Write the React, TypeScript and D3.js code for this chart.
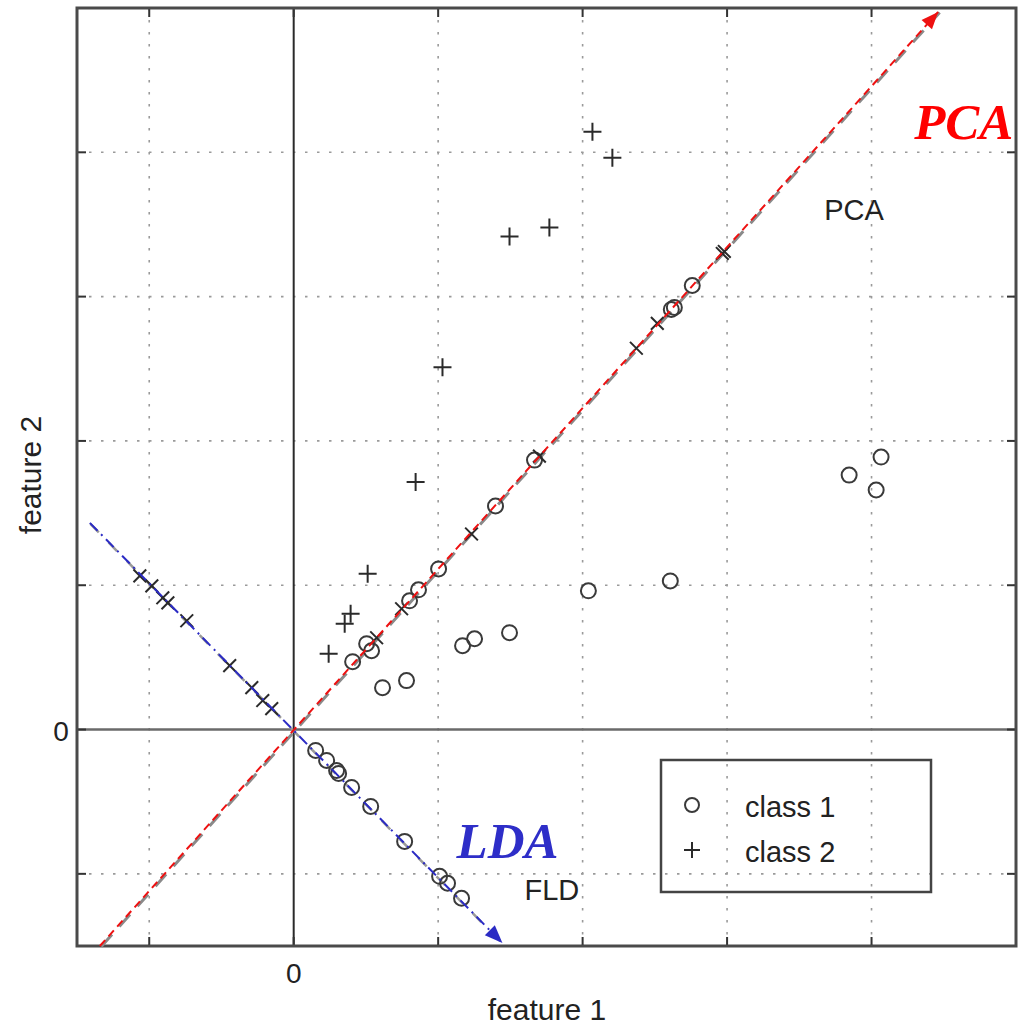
import * as d3 from "d3";

// class 1 (circles) off the projection lines
const class1X = [3.845, 4.066, 4.032, 2.607, 2.04, 1.494, 1.169, 1.252, 0.615, 0.781];
const class1Y = [1.763, 1.888, 1.66, 1.03, 0.961, 0.671, 0.581, 0.629, 0.29, 0.339];

// class 2 (plus) off the projection lines
const class2X = [2.068, 2.206, 1.494, 1.77, 1.03, 0.844, 0.512, 0.394, 0.353, 0.242];
const class2Y = [4.142, 3.963, 3.416, 3.479, 2.51, 1.715, 1.079, 0.802, 0.733, 0.526];

// projections on the PCA direction
const pcaC1X = [0.408, 0.505, 0.539, 0.802, 0.864, 1.003, 1.397, 1.667, 2.614, 2.635, 2.759];
const pcaC1Y = [0.47, 0.595, 0.546, 0.892, 0.968, 1.113, 1.549, 1.867, 2.911, 2.925, 3.077];
const pcaC2X = [0.574, 0.747, 1.231, 1.701, 2.372, 2.517, 2.967, 2.981];
const pcaC2Y = [0.636, 0.837, 1.355, 1.895, 2.642, 2.815, 3.299, 3.313];

// projections on the LDA (FLD) direction
const ldaC1X = [0.152, 0.228, 0.297, 0.311, 0.401, 0.533, 0.768, 1.01, 1.065, 1.162];
const ldaC1Y = [-0.145, -0.214, -0.284, -0.304, -0.401, -0.533, -0.775, -1.017, -1.065, -1.169];
const ldaC2X = [-1.065, -0.982, -0.906, -0.871, -0.74, -0.443, -0.29, -0.214, -0.152];
const ldaC2Y = [1.065, 0.996, 0.913, 0.878, 0.754, 0.443, 0.29, 0.201, 0.145];

// direction lines (start, arrow tip)
const pcaLine: [number, number][] = [[-1.342, -1.5], [4.461, 4.972]];
const ldaLine: [number, number][] = [[-1.411, 1.432], [1.445, -1.48]];

const gridTicks = [-1, 1, 2, 3, 4];
const axisTicks = [-1, 0, 1, 2, 3, 4];

const W = 1018;
const H = 1027;
const sans = "'Liberation Sans', Arial, sans-serif";
const serif = "'Liberation Serif', 'Times New Roman', serif";

const zip = (xs: number[], ys: number[]) => xs.map((v, i) => [v, ys[i]] as [number, number]);

export default function App() {
  const x = d3.scaleLinear().domain([-1.5, 5]).range([77, 1016]);
  const y = d3.scaleLinear().domain([-1.5, 5]).range([946, 8]);
  const line = d3.line<[number, number]>().x((d) => x(d[0])).y((d) => y(d[1]));

  const circle = (p: [number, number], i: number, key: string) => (
    <circle key={key + i} cx={x(p[0])} cy={y(p[1])} r={7.5} fill="none" stroke="#3a3a3a" strokeWidth={2} />
  );
  const plus = (p: [number, number], i: number, key: string, rot = 0) => (
    <path
      key={key + i}
      d="M-9,0H9M0,-9V9"
      transform={`translate(${x(p[0])},${y(p[1])}) rotate(${rot})`}
      stroke="#2a2a2a"
      strokeWidth={2}
    />
  );

  // arrowhead at the tip of a direction line
  const arrow = (seg: [number, number][], color: string, len: number, half: number) => {
    const [x0, y0] = [x(seg[0][0]), y(seg[0][1])];
    const [x1, y1] = [x(seg[1][0]), y(seg[1][1])];
    const a = Math.atan2(y1 - y0, x1 - x0);
    const bx = x1 - len * Math.cos(a);
    const by = y1 - len * Math.sin(a);
    const nx = -Math.sin(a) * half;
    const ny = Math.cos(a) * half;
    return <path d={`M${x1},${y1}L${bx + nx},${by + ny}L${bx - nx},${by - ny}Z`} fill={color} />;
  };

  return (
    <div style={{ position: "absolute", left: 0, top: 0 }}>
      <svg width={W} height={H} style={{ display: "block", background: "#fff" }}>
        {/* dotted grid */}
        <g stroke="#9a9a9a" strokeWidth={1.6} strokeDasharray="2.5,9.5">
          {gridTicks.map((t) => (
            <line key={"gx" + t} x1={x(t)} x2={x(t)} y1={y(5)} y2={y(-1.5)} />
          ))}
          {gridTicks.map((t) => (
            <line key={"gy" + t} y1={y(t)} y2={y(t)} x1={x(-1.5)} x2={x(5)} />
          ))}
        </g>

        {/* zero axes */}
        <line x1={x(-1.5)} x2={x(5)} y1={y(0)} y2={y(0)} stroke="#6a6a6a" strokeWidth={2.5} />
        <line x1={x(0)} x2={x(0)} y1={y(5)} y2={y(-1.5)} stroke="#2a2a2a" strokeWidth={2} />

        {/* tick marks on all four sides */}
        <g stroke="#333" strokeWidth={2}>
          {axisTicks.map((t) => (
            <g key={"t" + t}>
              <line x1={x(t)} x2={x(t)} y1={y(-1.5)} y2={y(-1.5) - 9} />
              <line x1={x(t)} x2={x(t)} y1={y(5)} y2={y(5) + 9} />
              <line y1={y(t)} y2={y(t)} x1={x(-1.5)} x2={x(-1.5) + 9} />
              <line y1={y(t)} y2={y(t)} x1={x(5)} x2={x(5) - 9} />
            </g>
          ))}
        </g>

        {/* frame */}
        <rect x={x(-1.5)} y={y(5)} width={x(5) - x(-1.5)} height={y(-1.5) - y(5)} fill="none" stroke="#4a4a4a" strokeWidth={3} />

        {/* original gray dashed direction lines underneath */}
        <path d={line(pcaLine) ?? ""} transform="translate(1.5,0.5)" fill="none" stroke="#8a8a8a" strokeWidth={3} strokeDasharray="16,11" />
        <path d={line(ldaLine) ?? ""} transform="translate(0.5,1)" fill="none" stroke="#9a9a9a" strokeWidth={2.5} strokeDasharray="12,14" />

        {/* points */}
        {zip(class1X, class1Y).map((p, i) => circle(p, i, "c1"))}
        {zip(class2X, class2Y).map((p, i) => plus(p, i, "c2"))}
        {zip(pcaC1X, pcaC1Y).map((p, i) => circle(p, i, "pc1"))}
        {zip(pcaC2X, pcaC2Y).map((p, i) => plus(p, i, "pc2", 45))}
        {zip(ldaC1X, ldaC1Y).map((p, i) => circle(p, i, "lc1"))}
        {zip(ldaC2X, ldaC2Y).map((p, i) => plus(p, i, "lc2", 45))}

        {/* coloured direction lines */}
        <path d={line(pcaLine) ?? ""} fill="none" stroke="#ee1111" strokeWidth={2} strokeDasharray="8,5" />
        {arrow(pcaLine, "#ee1111", 17, 7)}
        <path d={line(ldaLine) ?? ""} fill="none" stroke="#2b2bc4" strokeWidth={2} strokeDasharray="11,5,2,5" />
        {arrow(ldaLine, "#2b2bc4", 18, 7)}

        {/* annotations */}
        <text x={x(4.295)} y={y(4.094)} fontFamily={serif} fontStyle="italic" fontWeight="bold" fontSize={51} fill="#ff0000">PCA</text>
        <text x={x(1.127)} y={y(-0.892)} fontFamily={serif} fontStyle="italic" fontWeight="bold" fontSize={51} fill="#2e2ec8">LDA</text>
        <text x={x(3.672)} y={y(3.534)} fontFamily={sans} fontSize={29} fill="#222">PCA</text>
        <text x={x(1.598)} y={y(-1.183)} fontFamily={sans} fontSize={29} fill="#222">FLD</text>

        {/* legend */}
        <rect x={661} y={760} width={270} height={132} fill="none" stroke="#444" strokeWidth={2.5} />
        <circle cx={692} cy={805} r={7} fill="none" stroke="#3a3a3a" strokeWidth={2} />
        <path d="M-8,0H8M0,-8V8" transform="translate(692,850)" stroke="#2a2a2a" strokeWidth={2} />
        <text x={745} y={817} fontFamily={sans} fontSize={29} fill="#222">class 1</text>
        <text x={745} y={862} fontFamily={sans} fontSize={29} fill="#222">class 2</text>

        {/* axis labels */}
        <text x={61} y={y(0) + 11} textAnchor="middle" fontFamily={sans} fontSize={28} fill="#222">0</text>
        <text x={x(0)} y={983} textAnchor="middle" fontFamily={sans} fontSize={28} fill="#222">0</text>
        <text x={547} y={1020} textAnchor="middle" fontFamily={sans} fontSize={30} fill="#222">feature 1</text>
        <text transform="translate(41,475) rotate(-90)" textAnchor="middle" fontFamily={sans} fontSize={30} fill="#222">feature 2</text>
      </svg>
    </div>
  );
}
